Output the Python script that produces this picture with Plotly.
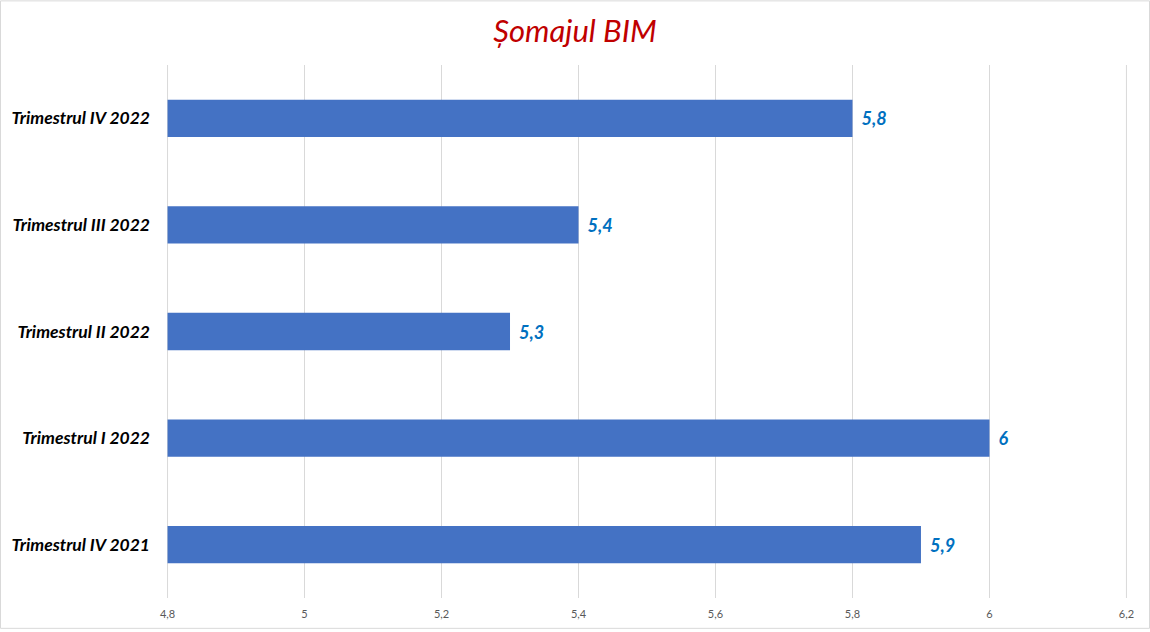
import plotly.graph_objects as go

categories = ["Trimestrul IV 2021", "Trimestrul I 2022", "Trimestrul II 2022",
              "Trimestrul III 2022", "Trimestrul IV 2022"]
values = [5.9, 6.0, 5.3, 5.4, 5.8]
value_labels = ["5,9", "6", "5,3", "5,4", "5,8"]
x_ticks = [4.8, 5.0, 5.2, 5.4, 5.6, 5.8, 6.0, 6.2]
axis_min = 4.8

fig = go.Figure()
fig.add_trace(go.Bar(
    y=categories,
    x=[v - axis_min for v in values],
    base=axis_min,
    orientation="h",
    marker=dict(color="#4472C4", line=dict(width=0)),
    width=0.35,
    text=value_labels,
    texttemplate="\u00a0\u2009%{text}",
    textposition="outside",
    cliponaxis=False,
    textfont=dict(family="Lato", size=18, color="#0070C0", style="italic", weight="bold"),
    hoverinfo="skip",
))

L, R, T, B = 167, 23, 65, 31
W, H = 1150, 632
pw, ph = W - L - R, H - T - B

shapes = [dict(type="rect", xref="paper", yref="paper",
               x0=(0.5 - L) / pw, x1=(W - 0.5 - L) / pw,
               y0=-(B - 0.5) / ph, y1=1 + (T - 0.5) / ph,
               line=dict(color="#D9D9D9", width=1), layer="below")]
for tv in (x_ticks[0], x_ticks[-1]):
    shapes.append(dict(type="line", xref="x", yref="paper", x0=tv, x1=tv, y0=0, y1=1,
                       line=dict(color="#D9D9D9", width=1), layer="below"))

fig.update_layout(
    width=W, height=H,
    margin=dict(l=L, r=R, t=T, b=B),
    paper_bgcolor="white", plot_bgcolor="white",
    separators=",.",
    showlegend=False,
    title=dict(text="Șomajul BIM", x=0.5, xref="container", xanchor="center",
               y=1 - 31 / H, yanchor="middle", yref="container",
               font=dict(family="Lato", size=31, color="#C00000", style="italic")),
    xaxis=dict(range=[4.7992, 6.2008], tickvals=x_ticks, showgrid=True,
               gridcolor="#D9D9D9", gridwidth=1, zeroline=False, showline=False,
               ticks="", ticklabelstandoff=8,
               tickfont=dict(family="Lato", size=11, color="#595959")),
    yaxis=dict(categoryorder="array", categoryarray=categories,
               showgrid=False, zeroline=False, showline=False, ticks="",
               ticklabelstandoff=16,
               tickfont=dict(family="Lato", size=17.5, color="#000000",
                             style="italic", weight="bold")),
    shapes=shapes,
)

fig.write_html("out.html")
